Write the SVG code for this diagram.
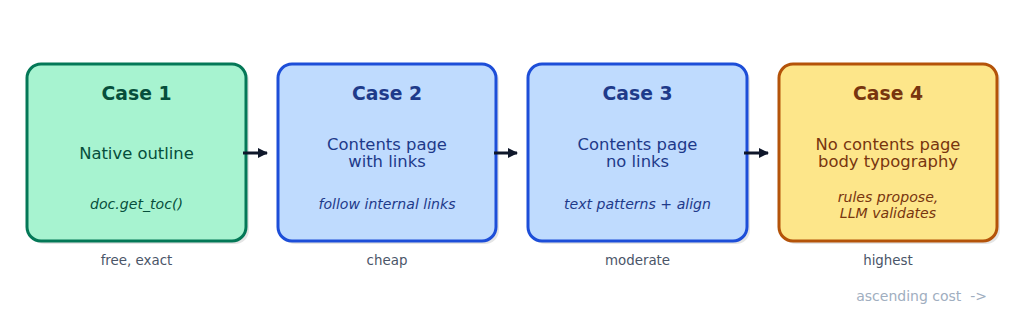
<svg xmlns="http://www.w3.org/2000/svg" width="1024" height="316" viewBox="0 0 1024 316">
<defs>
<style>
text{font-family:"DejaVu Sans","Liberation Sans",sans-serif;text-anchor:middle}
.sh{fill:#000;opacity:0.1}
.title{font-size:18.8px;font-weight:bold}
.main{font-size:16.4px}
.sub{font-size:14.1px;font-style:italic}
.cost{font-size:13.4px;fill:#4a5568}
.g .box{fill:#a7f3d0;stroke:#047857}
.g text{fill:#064e3b}
.b .box{fill:#bfdbfe;stroke:#1d4ed8}
.b text{fill:#1e3a8a}
.y .box{fill:#fde68a;stroke:#b45309}
.y text{fill:#78350f}
.box{stroke-width:3}
.conn line{stroke:#0f172a;stroke-width:3}
</style>
<marker id="ah" markerWidth="10" markerHeight="10" refX="9" refY="5" orient="auto" markerUnits="userSpaceOnUse" viewBox="0 0 10 10">
<path d="M0,0 L10,5 L0,10 z" fill="#0f172a"/>
</marker>
</defs>
<rect width="1024" height="316" fill="#fff"/>
<g id="case1" class="g">
<rect class="sh" x="30" y="67" width="219" height="177" rx="14"/>
<rect class="box" x="27" y="64" width="219" height="177" rx="14"/>
<text class="title" x="136.5" y="100">Case 1</text>
<text class="main" x="136.5" y="159">Native outline</text>
<text class="sub" x="136.5" y="209">doc.get_toc()</text>
</g>
<g id="case2" class="b">
<rect class="sh" x="281" y="67" width="218" height="177" rx="14"/>
<rect class="box" x="278" y="64" width="218" height="177" rx="14"/>
<text class="title" x="387" y="100">Case 2</text>
<text class="main" x="387" y="150">Contents page</text>
<text class="main" x="387" y="167">with links</text>
<text class="sub" x="387" y="209">follow internal links</text>
</g>
<g id="case3" class="b">
<rect class="sh" x="531" y="67" width="219" height="177" rx="14"/>
<rect class="box" x="528" y="64" width="219" height="177" rx="14"/>
<text class="title" x="637.5" y="100">Case 3</text>
<text class="main" x="637.5" y="150">Contents page</text>
<text class="main" x="637.5" y="167">no links</text>
<text class="sub" x="637.5" y="209">text patterns + align</text>
</g>
<g id="case4" class="y">
<rect class="sh" x="782" y="67" width="218" height="177" rx="14"/>
<rect class="box" x="779" y="64" width="218" height="177" rx="14"/>
<text class="title" x="888" y="100">Case 4</text>
<text class="main" x="888" y="150">No contents page</text>
<text class="main" x="888" y="167">body typography</text>
<text class="sub" x="888" y="202">rules propose,</text>
<text class="sub" x="888" y="218">LLM validates</text>
</g>
<g id="connectors" class="conn">
<line x1="243" y1="153" x2="267" y2="153" marker-end="url(#ah)"/>
<line x1="494" y1="153" x2="517" y2="153" marker-end="url(#ah)"/>
<line x1="744" y1="153" x2="768" y2="153" marker-end="url(#ah)"/>
</g>
<g id="labels">
<text class="cost" x="136.5" y="265">free, exact</text>
<text class="cost" x="387" y="265">cheap</text>
<text class="cost" x="637.5" y="265">moderate</text>
<text class="cost" x="888" y="265">highest</text>
<text x="987" y="301" style="text-anchor:end;font-size:14px;fill:#a0aec0;white-space:pre" xml:space="preserve">ascending cost  -&gt;</text>
</g>
</svg>
